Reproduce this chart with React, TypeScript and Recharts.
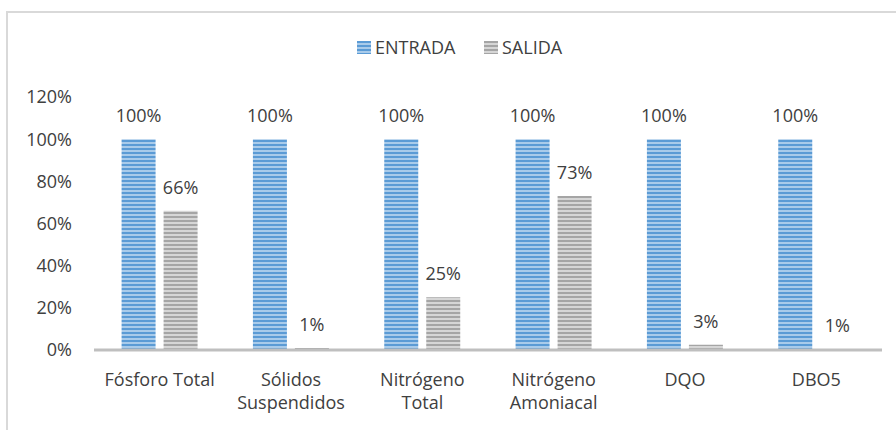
import { BarChart, Bar, XAxis, YAxis, LabelList } from 'recharts';

const categories = ['Fósforo Total', 'Sólidos Suspendidos', 'Nitrógeno Total', 'Nitrógeno Amoniacal', 'DQO', 'DBO5'];
const entrada = [1, 1, 1, 1, 1, 1];
const salida = [0.66, 0.01, 0.25, 0.73, 0.025, 0.005];
const salidaLabels = ['66%', '1%', '25%', '73%', '3%', '1%'];
const yTicks = [0, 0.2, 0.4, 0.6, 0.8, 1, 1.2];

const data = categories.map((name, i) => ({
  name,
  entrada: entrada[i],
  salida: salida[i],
  salidaLabel: salidaLabels[i],
}));

const FONT = '"Open Sans", sans-serif';
const FS = 18;
const TEXT = '#404040';

function CategoryTick({ x, y, payload }: any) {
  const words: string[] = payload.value === 'Fósforo Total' ? [payload.value] : payload.value.split(' ');
  return (
    <text x={x} y={y} textAnchor="middle" fill={TEXT} fontSize={FS} fontFamily={FONT}>
      {words.map((w, i) => (
        <tspan key={i} x={x} dy={i === 0 ? 28 : 23}>
          {w}
        </tspan>
      ))}
    </text>
  );
}

function ChartLegend() {
  const items = [
    { label: 'ENTRADA', fill: 'url(#stripeBlue)', left: 357 },
    { label: 'SALIDA', fill: 'url(#stripeGray)', left: 484 },
  ];
  return (
    <>
      {items.map((it) => (
        <div
          key={it.label}
          style={{
            position: 'absolute',
            top: 35,
            left: it.left,
            display: 'flex',
            alignItems: 'center',
            gap: 4,
            fontFamily: FONT,
            fontSize: FS,
            color: TEXT,
            lineHeight: '24px',
            whiteSpace: 'nowrap',
          }}
        >
          <svg width={14} height={13}>
            <rect width={14} height={13} fill={it.fill} />
          </svg>
          <span>{it.label}</span>
        </div>
      ))}
    </>
  );
}

export default function App() {
  return (
    <div style={{ position: 'fixed', left: 0, top: 0, width: 896, height: 430, background: '#fff', overflow: 'hidden' }}>
      <BarChart
        width={896}
        height={430}
        data={data}
        margin={{ top: 97, right: 14, bottom: 0, left: 0 }}
        barCategoryGap="21%"
        barGap={8}
      >
        <defs>
          <pattern id="stripeBlue" width={4} height={4} patternUnits="userSpaceOnUse">
            <rect width={4} height={4} fill="#a9cbea" />
            <rect width={4} height={2} fill="#5b9bd5" />
          </pattern>
          <pattern id="stripeGray" width={4} height={4} patternUnits="userSpaceOnUse">
            <rect width={4} height={4} fill="#d6d6d6" />
            <rect width={4} height={2} fill="#a5a5a5" />
          </pattern>
        </defs>
        <XAxis
          dataKey="name"
          stroke="#bfbfbf"
          strokeWidth={3}
          tickLine={false}
          height={80}
          interval={0}
          tick={<CategoryTick />}
        />
        <YAxis
          width={94}
          domain={[0, 1.2]}
          ticks={yTicks}
          axisLine={false}
          tickLine={false}
          tickSize={0}
          tickMargin={22}
          tickFormatter={(v: number) => `${Math.round(v * 100)}%`}
          tick={{ fill: TEXT, fontSize: FS, fontFamily: FONT }}
        />
        <Bar dataKey="entrada" fill="url(#stripeBlue)" isAnimationActive={false}>
          <LabelList
            dataKey="entrada"
            position="top"
            offset={17}
            formatter={(v: any) => `${Math.round(v * 100)}%`}
            style={{ fill: TEXT, fontSize: FS, fontFamily: FONT }}
          />
        </Bar>
        <Bar dataKey="salida" fill="url(#stripeGray)" isAnimationActive={false}>
          <LabelList
            dataKey="salidaLabel"
            position="top"
            offset={17}
            style={{ fill: TEXT, fontSize: FS, fontFamily: FONT }}
          />
        </Bar>
      </BarChart>
      <ChartLegend />
      <div
        style={{
          position: 'absolute',
          left: 6,
          top: 11,
          width: 900,
          height: 430,
          borderLeft: '2px solid #d9d9d9',
          borderTop: '2px solid #d9d9d9',
          pointerEvents: 'none',
        }}
      />
    </div>
  );
}
